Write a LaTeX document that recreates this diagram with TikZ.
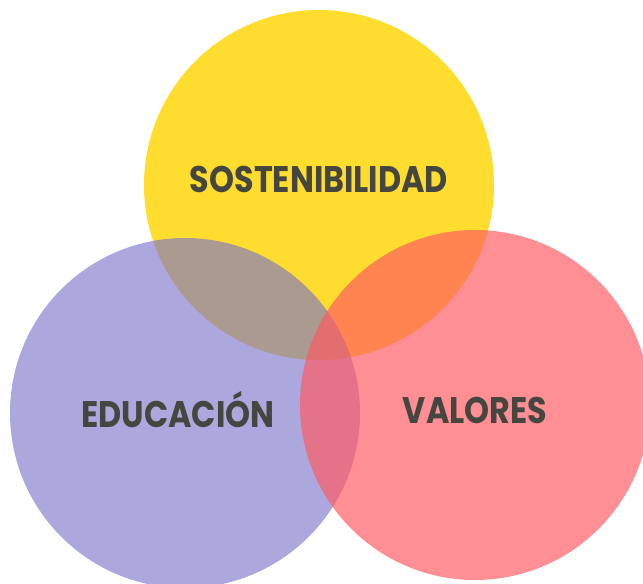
\documentclass[tikz,border=0pt]{standalone}
\usepackage{fontspec}
\setmainfont{Poppins}[BoldFont={Poppins Bold}]
\usepackage{xcolor}
\definecolor{amarillo}{HTML}{FFDD2E}
\definecolor{morado}{HTML}{7B73C9}
\definecolor{rojo}{HTML}{FF5A61}
\definecolor{texto}{HTML}{464640}

\begin{document}
\begin{tikzpicture}[x=1pt,y=-1pt,
   every node/.style={inner sep=0pt},
   circulo/.style={circle, minimum size=350pt},
   etiqueta/.style={font=\bfseries\fontsize{37}{37}\selectfont, text=texto, xscale=0.86}]
   \useasboundingbox (0,0) rectangle (643,584);
   \node[circulo, fill=amarillo] (sost) at (319,185) {};
   \node[circulo, fill=morado, fill opacity=0.63] (edu) at (185,413) {};
   \node[circulo, fill=rojo, fill opacity=0.68] (val) at (475,405) {};
   \node[etiqueta] (lsost) at (319,179) {SOSTENIBILIDAD};
   \node[etiqueta] (ledu) at (178,410) {EDUCACIÓN};
   \node[etiqueta] (lval) at (475,410) {VALORES};
\end{tikzpicture}
\end{document}
